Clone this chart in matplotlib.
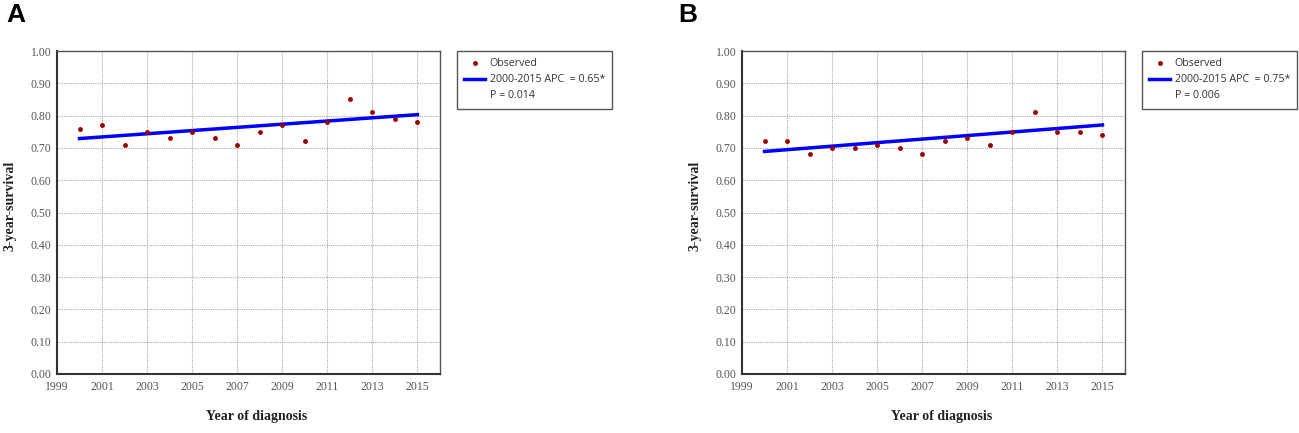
import matplotlib
matplotlib.use('Agg')
import matplotlib.pyplot as plt
from matplotlib.lines import Line2D

#observed 3-year survival
years = [2000, 2001, 2002, 2003, 2004, 2005, 2006, 2007,
         2008, 2009, 2010, 2011, 2012, 2013, 2014, 2015]
survA = [0.76, 0.77, 0.71, 0.75, 0.73, 0.75, 0.73, 0.71,
         0.75, 0.77, 0.72, 0.78, 0.85, 0.81, 0.79, 0.78]
survB = [0.72, 0.72, 0.68, 0.70, 0.70, 0.71, 0.70, 0.68,
         0.72, 0.73, 0.71, 0.75, 0.81, 0.75, 0.75, 0.74]

#fitted joinpoint segment (endpoints)
fitYears = [2000, 2015]
fitA = [0.729, 0.803]
fitB = [0.689, 0.771]

apcLabels = ['2000-2015 APC  = 0.65*', '2000-2015 APC  = 0.75*']
pLabels = ['P = 0.014', 'P = 0.006']
panelLetters = ['A', 'B']

xTicks = [1999, 2001, 2003, 2005, 2007, 2009, 2011, 2013, 2015]
yTicks = [i / 10 for i in range(11)]

W, H = 1299, 433
fig = plt.figure(figsize=(W / 100, H / 100), dpi=100)

axLefts = [57, 742]
axW = 383
axTop, axBottom = 51, 374

def px2fig(x, y):
    return x / W, 1 - y / H

panels = [(survA, fitA), (survB, fitB)]
for k, (surv, fit) in enumerate(panels):
    l = axLefts[k]
    ax = fig.add_axes([l / W, 1 - axBottom / H, axW / W, (axBottom - axTop) / H])

    ax.plot(years, surv, 'o', color='#990000', ms=3.5, mew=0, label='Observed', zorder=3)
    ax.plot(fitYears, fit, '-', color='#0000FF', lw=2.5, zorder=2)

    ax.set_xlim(1999, 2016)
    ax.set_ylim(0, 1.0)
    ax.set_xticks(xTicks)
    ax.set_yticks(yTicks)
    ax.set_yticklabels(['%.2f' % v for v in yTicks])
    ax.tick_params(length=0, labelsize=8.5, labelcolor='#555555')
    ax.tick_params(axis='y', pad=4)
    ax.tick_params(axis='x', pad=5)
    for lab in ax.get_xticklabels() + ax.get_yticklabels():
        lab.set_family('Liberation Serif')

    ax.grid(True, linestyle=(0, (1, 1)), color='#aaaaaa', lw=0.8)
    ax.set_axisbelow(True)
    for side in ['left', 'bottom']:
        ax.spines[side].set_color('#333333')
        ax.spines[side].set_linewidth(1.5)
    for side in ['top', 'right']:
        ax.spines[side].set_color('#555555')
        ax.spines[side].set_linewidth(1.0)

    ax.set_xlabel('Year of diagnosis', family='Liberation Serif', weight='bold',
                  fontsize=10, color='#222222')
    ax.set_ylabel('3-year-survival', family='Liberation Serif', weight='bold',
                  fontsize=10, color='#222222')
    ax.xaxis.set_label_coords(0.522, -0.113)
    ax.yaxis.set_label_coords(-0.105, 0.52)

    handles = [Line2D([], [], ls='none', marker='o', color='#990000', ms=3.5, mew=0),
               Line2D([], [], color='#0000FF', lw=2.5),
               Line2D([], [], ls='none')]
    leg = ax.legend(handles, ['Observed', apcLabels[k], pLabels[k]],
                    loc='upper left', bbox_to_anchor=((457 - 57) / axW, 1.0),
                    fancybox=False, framealpha=1, edgecolor='#555555',
                    prop={'family': 'Open Sans', 'size': 7.7},
                    handlelength=1.9, handletextpad=0.45, labelspacing=0.45,
                    borderpad=0.7, borderaxespad=0)
    leg.get_frame().set_linewidth(1.0)
    for t in leg.get_texts():
        t.set_color('#333333')

    fx, fy = px2fig(l - 51 if k == 0 else l - 64, 3)
    fig.text(fx, fy, panelLetters[k], family='Liberation Sans', weight='bold',
             fontsize=19, va='top', ha='left')

fig.savefig('out.png', dpi=100)
